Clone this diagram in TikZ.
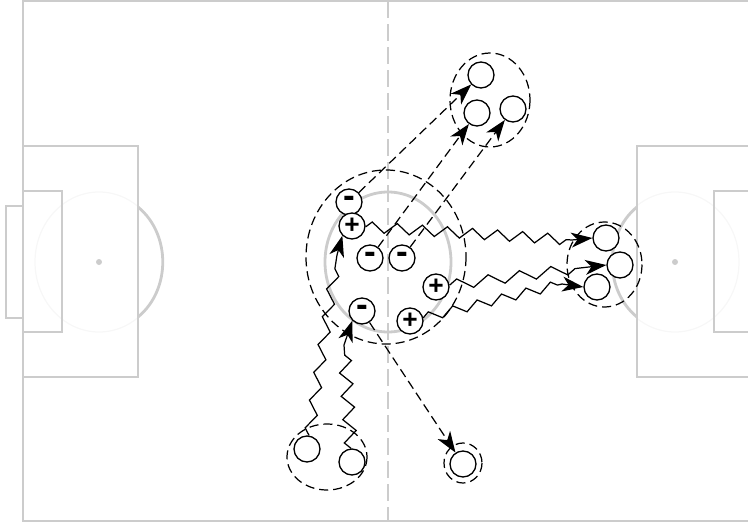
\documentclass[tikz,border=0pt]{standalone}
\usepackage{fontspec}
\setmainfont{Liberation Sans}
\usetikzlibrary{arrows.meta,decorations.pathmorphing}
\definecolor{pitchgrey}{gray}{0.8}
\definecolor{faintgrey}{gray}{0.97}
\tikzset{
  player/.style={draw,circle,fill=white,line width=0.75pt,minimum size=0.52cm,inner sep=0pt,font=\fontsize{15}{15}\selectfont\bfseries},
  minusplayer/.style={player,font=\fontsize{20}{20}\selectfont\bfseries},
  pitch/.style={draw=pitchgrey,line width=1.6pt},
  group/.style={draw,line width=0.7pt,dash pattern=on 5.2pt off 2.8pt},
  pass/.style={line width=0.7pt,dash pattern=on 5.2pt off 2.8pt,-{Stealth[length=12pt,width=8.5pt,inset=3.5pt]}},
  run/.style={line width=0.7pt,-{Stealth[length=12pt,width=8.5pt,inset=3.5pt]}}
}
\begin{document}
\begin{tikzpicture}[x=0.02cm,y=-0.02cm]
\useasboundingbox (0,0) rectangle (748,524);
% pitch
\draw[faintgrey,line width=0.7pt] (99,262) ellipse [x radius=64,y radius=70];
\draw[faintgrey,line width=0.7pt] (675,262) ellipse [x radius=64,y radius=70];
\draw[pitch] (748,1) -- (23,1) -- (23,521) -- (748,521);
\draw[pitch,dash pattern=on 9.5pt off 3.6pt] (388,1) -- (388,521);
\draw[pitch] (388,262) ellipse [x radius=63,y radius=70];
\draw[pitch] (23,146) rectangle (138,377);
\draw[pitch] (23,191) rectangle (62,332);
\draw[pitch] (23,206) -- (6,206) -- (6,318) -- (23,318);
\draw[pitch] (748,146) -- (637,146) -- (637,377) -- (748,377);
\draw[pitch] (748,191) -- (714,191) -- (714,332) -- (748,332);
\draw[pitch] (138,207) .. controls (171,234) and (171,290) .. (138,317);
\draw[pitch] (637,207) .. controls (604,234) and (604,290) .. (637,317);
\fill[pitchgrey] (99,262) circle (3);
\fill[pitchgrey] (675,262) circle (3);
% groups
\draw[group] (386,257) ellipse [x radius=80,y radius=87];
\draw[group] (490,100) ellipse [x radius=40,y radius=47];
\draw[group] (604.5,264.5) ellipse [x radius=37.5,y radius=42.5];
\draw[group] (327,457) ellipse [x radius=40,y radius=33];
\draw[group] (463,463) ellipse [x radius=19,y radius=20];
% players
\foreach \name/\px/\py in {top1/481/75,top2/477/113,top3/513/109,right1/606/238,right2/620/265,right3/597/287,low1/307/449,low2/352/462,far/463/464} {
  \node[player] (\name) at (\px,\py) {};
}
\node[minusplayer] (m1) at (349,202) {\raisebox{-.1em}{-}};
\node[player] (p1) at (352,226) {+};
\node[minusplayer] (m2) at (370,258) {\raisebox{-.1em}{-}};
\node[minusplayer] (m3) at (402,258) {\raisebox{-.1em}{-}};
\node[player] (p2) at (436,287) {+};
\node[player] (p3) at (410,321) {+};
\node[minusplayer] (m4) at (362,311) {\raisebox{-.1em}{-}};
% passes
\foreach \a/\b in {m1/top1,m2/top2,m3/top3,m4/far} {
  \draw[pass] (\a) -- (\b);
}
% runs
\coordinate (r1) at (337,255);
\coordinate (r2) at (344,345);
\coordinate (r3) at (572,240);
\coordinate (r4) at (580,268);
\coordinate (r5) at (562,284);
\foreach \a/\b/\c/\s/\h in {low1/p1.225/r1/16pt/2.9pt,low2/m4.225/r2/13.3pt/3.6pt,p1/right1.west/r3/14.3pt/3pt,p2/right2.west/r4/18pt/3pt,p3/right3.west/r5/14.3pt/2.6pt} {
  \draw[run] decorate[decoration={zigzag,segment length=\s,amplitude=\h}] {(\a) -- (\c)} -- (\b);
}
\end{tikzpicture}
\end{document}
